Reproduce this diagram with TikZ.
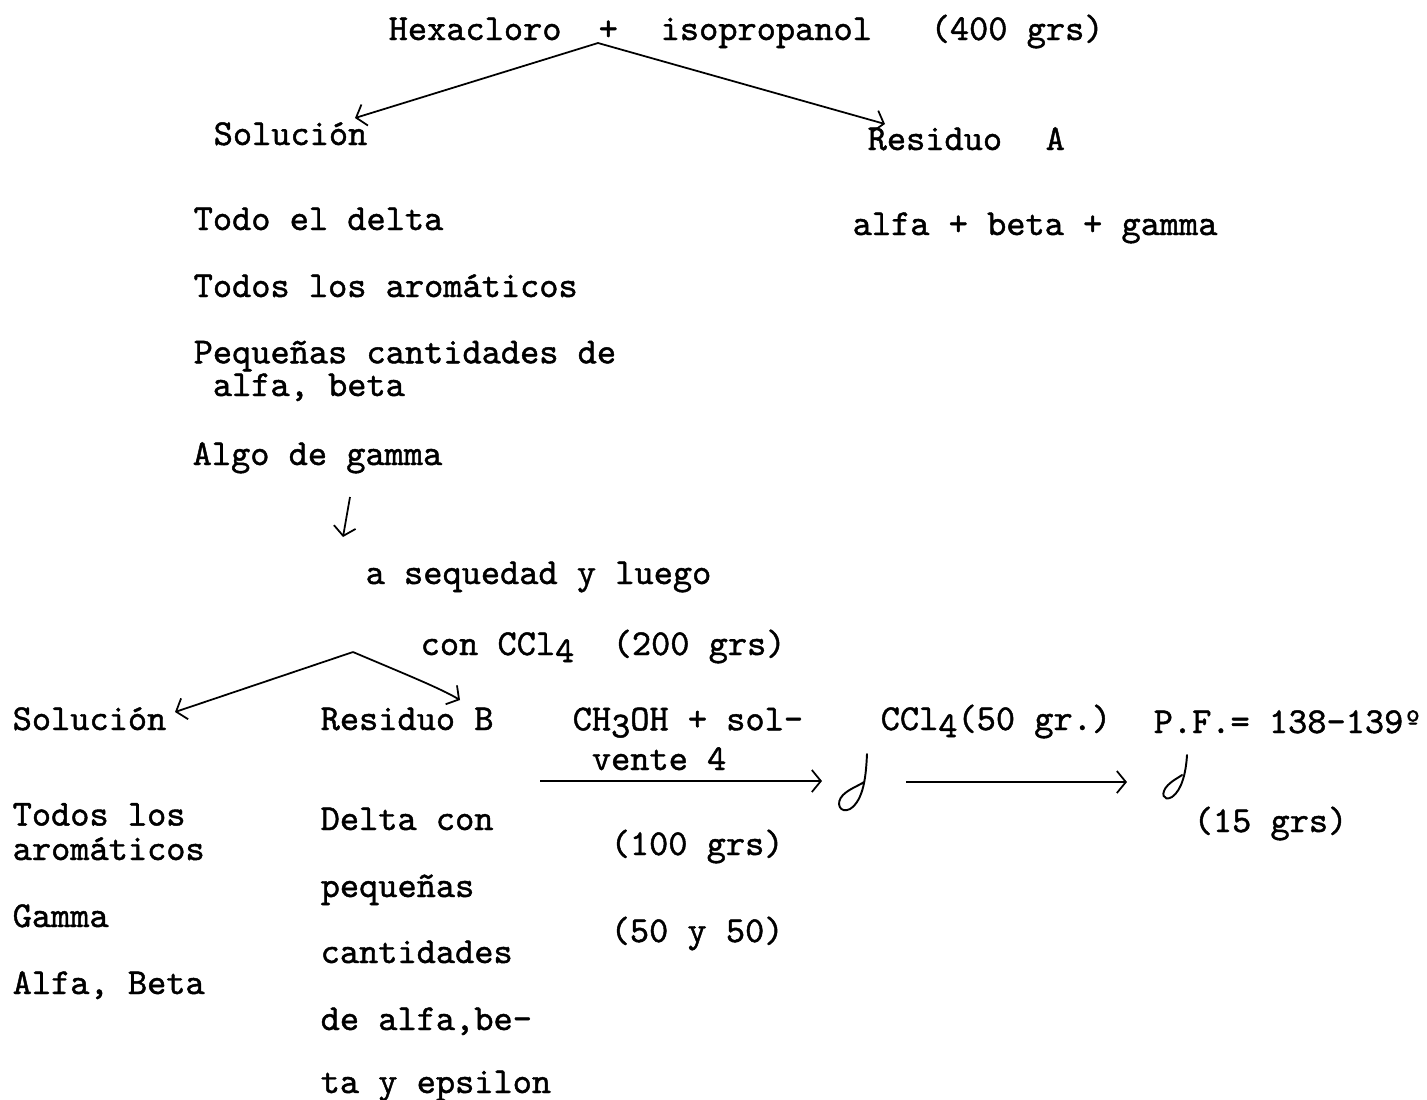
\documentclass[tikz,border=0pt]{standalone}
\usepackage{fontspec}
\newfontfamily\typewr{Latin Modern Mono}[FakeBold=1.2]
\usetikzlibrary{arrows.meta}
\newcommand\lowr[1]{\raisebox{-0.45ex}{#1}}
\tikzset{
  x=0.01cm, y=-0.01cm,
  typed/.style={font=\typewr\fontsize{10.4}{8.8}\selectfont, inner sep=0pt, anchor=base west, align=left},
  conn/.style={line width=0.5pt, -{Straight Barb[length=0.9mm,width=2.2mm]}},
  hand/.style={line width=0.55pt, line cap=round}
}
\begin{document}
\begin{tikzpicture}
\useasboundingbox (0,0) rectangle (1427,1099);
% top line
\node[typed] (hexa) at (388,40) {Hexacloro};
\node[typed] (plus1) at (598,40) {+};
\node[typed] (iso) at (660,40) {isopropanol};
\node[typed] (g400) at (930,40) {(400 grs)};
\coordinate (apex1) at (598,43);
\coordinate (solTipA) at (355,118);
\coordinate (resTipA) at (885,124);
\draw[conn] (apex1) -- (solTipA);
\draw[conn] (apex1) -- (resTipA);
% level 1
\node[typed] (sol1) at (213,145) {Solución};
\node[typed] (res1) at (867,150) {Residuo};
\node[typed] (resA) at (1045,150) {A};
\node[typed] (l1) at (193,230) {Todo el delta};
\node[typed] (r1) at (852,235) {alfa + beta + gamma};
\node[typed] (l2) at (193,297) {Todos los aromáticos};
% multi-line nodes: the base anchor is the baseline of the last line
\node[typed] (l3) at (193,396) {Pequeñas cantidades de\\[0.5pt]\hspace*{0.525em}alfa, beta};
\node[typed] (l5) at (192,465) {Algo de gamma};
\coordinate (downA) at (350,497);
\coordinate (downB) at (343,537);
\draw[conn] (downA) -- (downB);
\node[typed] (seq) at (365,584) {a sequedad y luego};
\node[typed] (con) at (420,655) {con CCl\lowr{4}};
\node[typed] (g200) at (612,655) {(200 grs)};
\coordinate (apex2) at (353,652);
\coordinate (solTipB) at (175,712);
\coordinate (resTipB) at (460,700);
\draw[conn] (apex2) -- (solTipB);
\draw[conn] (apex2) .. controls (400,672) and (440,688) .. (resTipB);
% level 2
\node[typed] (sol2) at (12,730) {Solución};
\node[typed] (res2) at (320,730) {Residuo B};
\node[typed] (ch3) at (572,770) {CH\lowr{3}OH + sol-\\[2.5pt]\hspace*{0.525em}vente 4};
\node[typed] (ccl50) at (880,730) {CCl\lowr{4}(50 gr.)};
\node[typed] (pf) at (1153,733) {P.F.= 138-139º};
\coordinate (h1a) at (540,781);
\coordinate (h1b) at (822,781);
\coordinate (h2a) at (906,782);
\coordinate (h2b) at (1127,782);
\draw[conn] (h1a) -- (h1b);
\draw[conn] (h2a) -- (h2b);
% hand-drawn crystallisation marks
\draw[hand] (867,754) .. controls (866,775) and (864,800) .. (850,809)
  .. controls (840,814) and (835,803) .. (843,795)
  .. controls (849,789) and (858,786) .. (864,782);
\draw[hand] (1187,755) .. controls (1186,772) and (1182,790) .. (1172,797)
  .. controls (1163,802) and (1160,793) .. (1168,785)
  .. controls (1173,780) and (1178,778) .. (1182,775);
\node[typed] (g15) at (1193,832) {(15 grs)};
\node[typed] (g100) at (610,855) {(100 grs)};
\node[typed] (g5050) at (610,942) {(50 y 50)};
% left column
\node[typed] (s1) at (12,860) {Todos los\\[1pt]aromáticos};
\node[typed] (s3) at (12,927) {Gamma};
\node[typed] (s4) at (12,994) {Alfa, Beta};
% residue B column
\node[typed] (b1) at (320,830) {Delta con};
\node[typed] (b2) at (320,897) {pequeñas};
\node[typed] (b3) at (320,963) {cantidades};
\node[typed] (b4) at (320,1030) {de alfa,be-};
\node[typed] (b5) at (320,1093) {ta y epsilon};
\end{tikzpicture}
\end{document}
